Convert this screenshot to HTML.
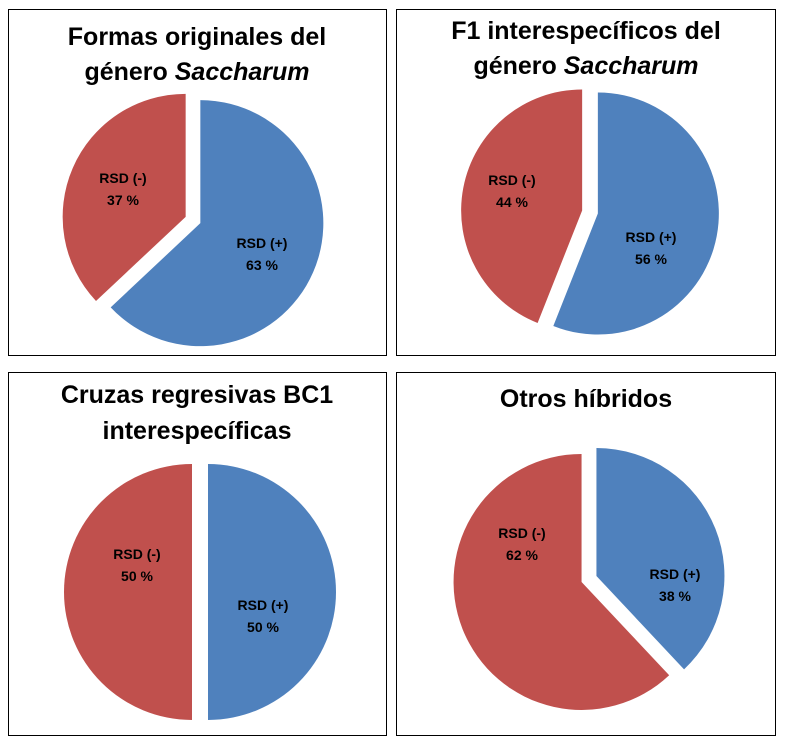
<!DOCTYPE html>
<html><head><meta charset="utf-8">
<style>
html,body{margin:0;padding:0;background:#fff;}
svg{display:block;font-family:"Liberation Sans",Arial,sans-serif;}
.t{font-size:25px;font-weight:bold;fill:#000;text-anchor:middle;}
.l{font-size:14px;font-weight:bold;fill:#000;text-anchor:middle;}
</style></head><body>
<svg id="c" width="785" height="742" viewBox="0 0 785 742">
<rect x="8.5" y="9.5" width="378" height="346" fill="#fff" stroke="#000"/>
<rect x="396.5" y="9.5" width="379" height="346" fill="#fff" stroke="#000"/>
<rect x="8.5" y="372.5" width="378" height="363" fill="#fff" stroke="#000"/>
<rect x="396.5" y="372.5" width="379" height="363" fill="#fff" stroke="#000"/>
<text class="t" x="197" y="45">Formas originales del</text>
<text class="t" x="197" y="80">género <tspan font-style="italic">Saccharum</tspan></text>
<text class="t" x="586" y="39">F1 interespecíficos del</text>
<text class="t" x="586" y="74">género <tspan font-style="italic">Saccharum</tspan></text>
<text class="t" x="197" y="403">Cruzas regresivas BC1</text>
<text class="t" x="197" y="439">interespecíficas</text>
<text class="t" x="586" y="407">Otros híbridos</text>
<g id="pies"></g>
</svg>
<script>
const positiveValues = [63, 56, 50, 38];
const negativeValues = [37, 44, 50, 62];
const categoryLabels = ["RSD (+)", "RSD (-)"];
const layout = [
  {cx:193, cy:220, r:123, lp:[262,248], ln:[123,183]},
  {cx:590, cy:212, r:121, lp:[651,242], ln:[512,185]},
  {cx:200, cy:592, r:128, lp:[263,610], ln:[137,559]},
  {cx:589, cy:579, r:128, lp:[675,579], ln:[522,538]}
];
const colors = ["#4f81bd", "#c0504d"];
const NS = "http://www.w3.org/2000/svg";
const g = document.getElementById("pies");
function pt(cx, cy, r, f){ const a = f*2*Math.PI; return [cx + r*Math.sin(a), cy - r*Math.cos(a)]; }
layout.forEach((L, i) => {
  const vals = [positiveValues[i], negativeValues[i]];
  const tot = vals[0] + vals[1];
  let start = 0;
  vals.forEach((v, j) => {
    const f = v/tot, mid = start + f/2, ex = 8;
    const [ox, oy] = pt(0, 0, ex, mid);
    const cx = L.cx + ox, cy = L.cy + oy;
    const [x1, y1] = pt(cx, cy, L.r, start);
    const [x2, y2] = pt(cx, cy, L.r, start + f);
    const p = document.createElementNS(NS, "path");
    p.setAttribute("d", `M${cx},${cy} L${x1},${y1} A${L.r},${L.r} 0 ${f>0.5?1:0} 1 ${x2},${y2} Z`);
    p.setAttribute("fill", colors[j]);
    
    
    g.appendChild(p);
    start += f;
  });
  [[L.lp, 0], [L.ln, 1]].forEach(([pos, j]) => {
    const t1 = document.createElementNS(NS, "text");
    t1.setAttribute("class", "l"); t1.setAttribute("x", pos[0]); t1.setAttribute("y", pos[1]);
    t1.textContent = categoryLabels[j];
    
    
    g.appendChild(t1);
    const t2 = document.createElementNS(NS, "text");
    t2.setAttribute("class", "l"); t2.setAttribute("x", pos[0]); t2.setAttribute("y", pos[1] + 22);
    t2.textContent = vals[j] + " %";
    
    
    g.appendChild(t2);
  });
});
</script>
</body></html>
